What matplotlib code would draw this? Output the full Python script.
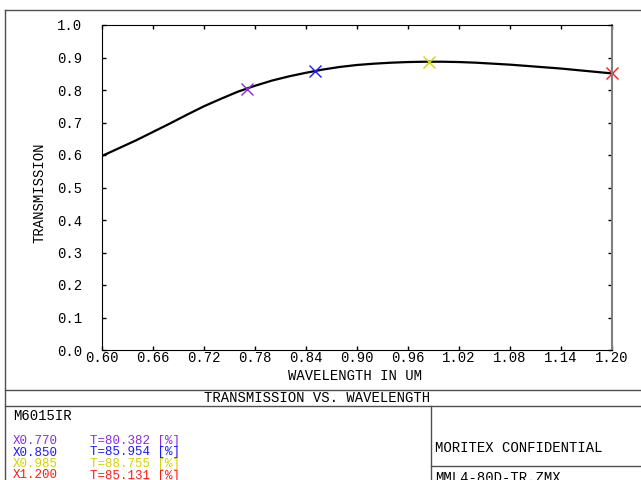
import numpy as np
import matplotlib
matplotlib.use("Agg")
import matplotlib.pyplot as plt
from matplotlib.lines import Line2D

# transmission curve
wavelength = [0.60, 0.62, 0.64, 0.66, 0.68, 0.70, 0.72, 0.74, 0.76, 0.78,
              0.80, 0.82, 0.84, 0.86, 0.88, 0.90, 0.92, 0.94, 0.96, 0.98,
              1.00, 1.02, 1.04, 1.06, 1.08, 1.10, 1.12, 1.14, 1.16, 1.18, 1.20]
transmission = [0.597, 0.621, 0.645, 0.671, 0.697, 0.724, 0.750, 0.773, 0.795, 0.813,
                0.829, 0.842, 0.853, 0.863, 0.871, 0.877, 0.881, 0.884, 0.886, 0.887,
                0.887, 0.886, 0.884, 0.881, 0.878, 0.874, 0.870, 0.866, 0.861, 0.856,
                0.851]

# marked field points
mark_wl = [0.770, 0.850, 0.985, 1.200]
mark_t = [80.382, 85.954, 88.755, 85.131]
mark_colors = ["#8a2be2", "#1a1aff", "#d4d400", "#ff1a1a"]

xticks = [0.60, 0.66, 0.72, 0.78, 0.84, 0.90, 0.96, 1.02, 1.08, 1.14, 1.20]
yticks = [0.0, 0.1, 0.2, 0.3, 0.4, 0.5, 0.6, 0.7, 0.8, 0.9, 1.0]

W, H = 641, 480
FONT = "Liberation Mono"
FS = 10
FS_SMALL = 9


def fx(px):
    return px / W


def fy(py):
    return 1 - py / H


fig = plt.figure(figsize=(W / 100, H / 100), dpi=100)
ax = fig.add_axes([fx(102), fy(350), fx(612) - fx(102), fy(25) - fy(350)])

ax.plot(wavelength, transmission, color="black", lw=1.6)
for w, t, c in zip(mark_wl, mark_t, mark_colors):
    ax.plot(w, t / 100, marker="x", color=c, ms=9, mew=1.0, clip_on=False)

ax.set_xlim(0.60, 1.20)
ax.set_ylim(0.0, 1.0)
ax.set_xticks(xticks)
ax.set_yticks(yticks)
ax.set_xticklabels([f"{v:.2f}" for v in xticks], family=FONT, fontsize=FS)
ax.set_yticklabels([f"{v:.1f}" for v in yticks], family=FONT, fontsize=FS)
ax.tick_params(direction="in", length=3, width=1, top=True, right=True)
ax.tick_params(axis="y", pad=14)
ax.tick_params(axis="x", pad=1)
for side in ["left", "bottom", "top"]:
    ax.spines[side].set_color("black")
ax.spines["right"].set_color("#808080")
ax.spines["right"].set_linewidth(1.5)

fig.text(fx(355), fy(376), "WAVELENGTH IN UM", family=FONT, fontsize=FS,
         ha="center", va="center")
fig.text(fx(39), fy(193), "TRANSMISSION", family=FONT, fontsize=FS,
         ha="center", va="center", rotation=90)

# frame and title block
frame = "#505050"
segs = [
    ((5, 5), (10, 480)),
    ((5, 641), (10, 10)),
    ((5, 641), (390, 390)),
    ((5, 641), (406, 406)),
    ((431, 431), (406, 480)),
    ((431, 641), (466, 466)),
]
for xs, ys in segs:
    fig.add_artist(Line2D([fx(x) for x in xs], [fy(y) for y in ys],
                          color=frame, lw=1.0))

fig.text(fx(317), fy(398), "TRANSMISSION VS. WAVELENGTH", family=FONT,
         fontsize=FS, ha="center", va="center")
fig.text(fx(13), fy(416), "M6015IR", family=FONT, fontsize=FS,
         ha="left", va="center")
for i, (w, t, c) in enumerate(zip(mark_wl, mark_t, mark_colors)):
    y = 441 + i * 11.5
    fig.text(fx(13), fy(y), f"X{w:.3f}", family=FONT, fontsize=FS_SMALL,
             ha="left", va="center", color=c)
    fig.text(fx(90), fy(y), f"T={t:.3f} [%]", family=FONT, fontsize=FS_SMALL,
             ha="left", va="center", color=c)

fig.text(fx(435), fy(448), "MORITEX CONFIDENTIAL", family=FONT, fontsize=FS,
         ha="left", va="center")
fig.text(fx(435), fy(471), "MML4-80D-TR.ZMX", family=FONT, fontsize=FS,
         ha="left", va="top")

fig.savefig("out.png", dpi=100)
